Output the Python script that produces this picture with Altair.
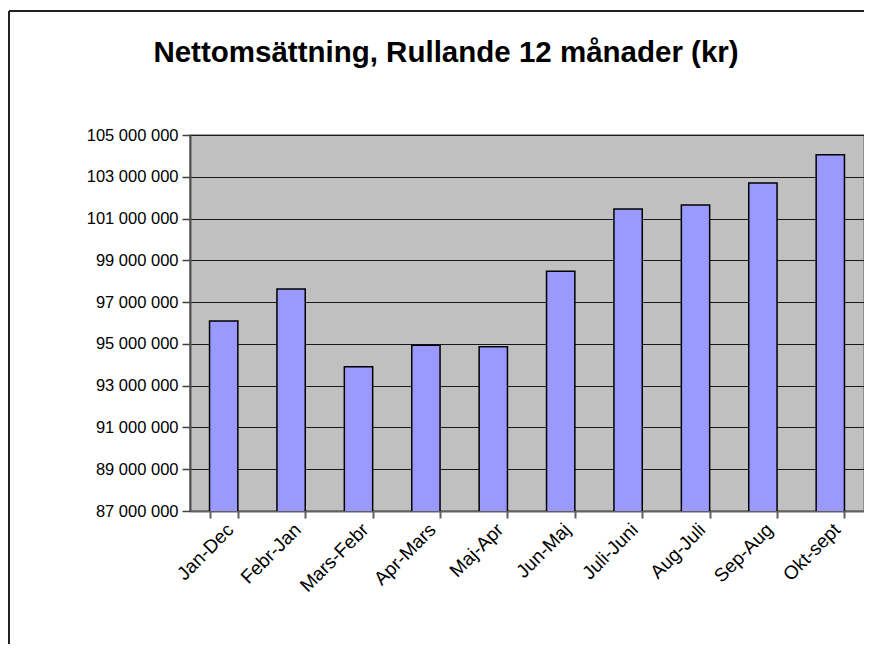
import altair as alt
import pandas as pd

categories = ["Jan-Dec", "Febr-Jan", "Mars-Febr", "Apr-Mars", "Maj-Apr",
              "Jun-Maj", "Juli-Juni", "Aug-Juli", "Sep-Aug", "Okt-sept"]
values = [96100000, 97630000, 93900000, 94940000, 94860000,
          98480000, 101460000, 101650000, 102700000, 104060000]
y_ticks = [87000000, 89000000, 91000000, 93000000, 95000000,
           97000000, 99000000, 101000000, 103000000, 105000000]
title_text = "Nettomsättning, Rullande 12 månader (kr)"

df = pd.DataFrame({"period": categories, "value": values})
tdf = pd.DataFrame({"t": [title_text]})

FONT = "Liberation Sans"
W, H = 674, 376

bars = alt.Chart(df).mark_bar(
    color="#9999FF", stroke="#000000", strokeWidth=1.5, clip=True
).encode(
    x=alt.X("period:N", sort=categories,
            scale=alt.Scale(paddingInner=0.58, paddingOuter=0.29),
            axis=alt.Axis(title=None, labelAngle=-45, labelFontSize=19,
                          labelFont=FONT, labelColor="#000000",
                          labelPadding=2, tickBand="extent", tickSize=7,
                          tickColor="#606060", domainColor="#606060",
                          domainWidth=2, tickWidth=2, grid=False)),
    y=alt.Y("value:Q",
            scale=alt.Scale(domain=[87000000, 105000000], nice=False, zero=False),
            axis=alt.Axis(title=None, values=y_ticks, labelFontSize=16.5,
                          labelFont=FONT, labelColor="#000000",
                          labelExpr="replace(format(datum.value, ','), regexp(',', 'g'), ' ')",
                          labelPadding=4, tickSize=8, tickColor="#404040",
                          tickWidth=1.5, domainColor="#505050", domainWidth=2,
                          grid=True, gridColor="#1a1a1a", gridWidth=1))
)

title = alt.Chart(tdf).mark_text(
    font=FONT, fontSize=29.5, fontWeight="bold", color="#000000",
    align="center", baseline="alphabetic"
).encode(text="t:N", x=alt.value(256), y=alt.value(-73))

border_left = alt.Chart(tdf).mark_rule(color="#222222", strokeWidth=2).encode(
    x=alt.value(-181), y=alt.value(-124), y2=alt.value(600))
border_top = alt.Chart(tdf).mark_rule(color="#222222", strokeWidth=2).encode(
    x=alt.value(-181), x2=alt.value(700), y=alt.value(-124))

chart = alt.layer(bars, title, border_left, border_top).properties(
    width=W, height=H,
    autosize=alt.AutoSizeParams(type="none"),
    padding={"left": 182, "top": 127, "right": 0, "bottom": 133},
    background="#FFFFFF"
).configure_view(
    fill="#C0C0C0", stroke="#808080", strokeWidth=1.5
)

chart.save("out.html", embed_options={"renderer": "svg", "actions": False})
